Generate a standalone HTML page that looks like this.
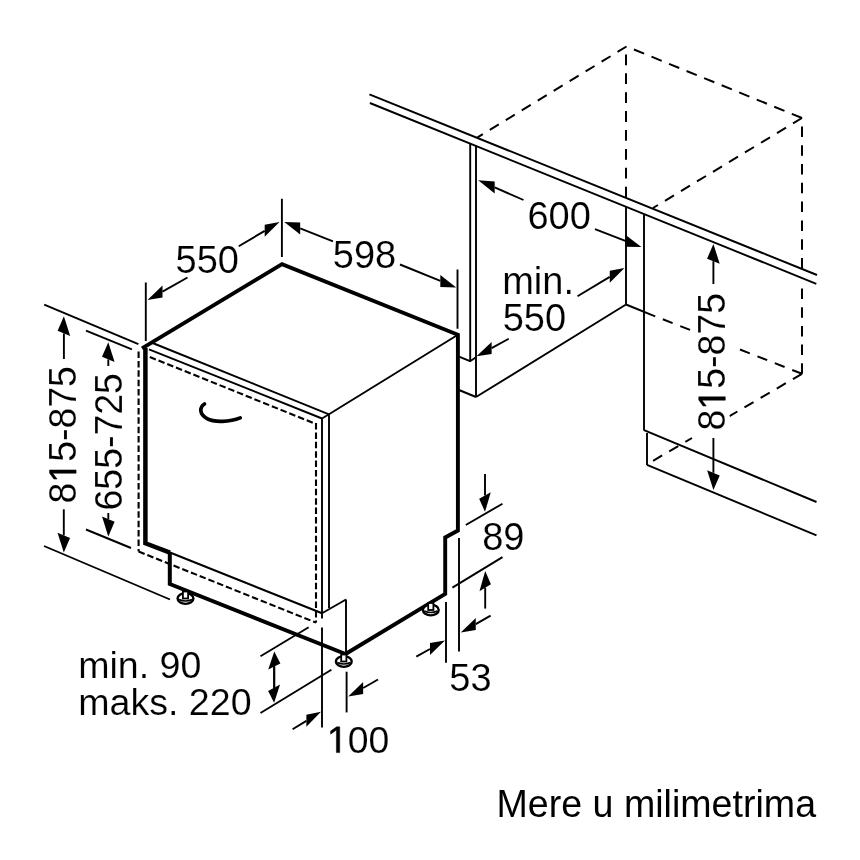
<!DOCTYPE html>
<html><head><meta charset="utf-8"><style>
html,body{margin:0;padding:0;background:#fff;width:860px;height:860px;overflow:hidden}
svg{display:block;will-change:transform}
text{font-family:"Liberation Sans",sans-serif;fill:#000;stroke:#fff;stroke-width:0.15px;paint-order:fill}
</style></head><body>
<svg width="860" height="860" viewBox="0 0 860 860" stroke="#000" stroke-linecap="butt">
<line x1="369.4" y1="94.4" x2="817" y2="275" stroke-width="1.9"/>
<line x1="369.9" y1="103" x2="816.3" y2="283.8" stroke-width="1.9"/>
<line x1="626.5" y1="46.5" x2="477.2" y2="137.6" stroke-width="2" stroke-dasharray="10.5 8.2"/>
<line x1="802" y1="118" x2="626.5" y2="46.5" stroke-width="2" stroke-dasharray="11 7.94"/>
<line x1="626" y1="197.5" x2="626" y2="47" stroke-width="2" stroke-dasharray="10.8 8.1"/>
<line x1="802" y1="268.5" x2="802" y2="118" stroke-width="2" stroke-dasharray="10.5 8.3"/>
<line x1="802" y1="118" x2="653" y2="208" stroke-width="2" stroke-dasharray="10.5 8.2"/>
<line x1="802" y1="373.8" x2="802" y2="281" stroke-width="2" stroke-dasharray="10.5 8.2"/>
<line x1="802" y1="373.8" x2="737" y2="348.3" stroke-width="2" stroke-dasharray="10.5 8.2"/>
<line x1="655.2" y1="316.3" x2="692" y2="330.7" stroke-width="2" stroke-dasharray="10.5 8.2" stroke-dashoffset="10.5"/>
<line x1="802" y1="373.8" x2="729.5" y2="416.1" stroke-width="2" stroke-dasharray="10.5 8.2"/>
<line x1="651" y1="462" x2="692" y2="438" stroke-width="2" stroke-dasharray="10.5 8.2" stroke-dashoffset="16.3"/>
<line x1="470.2" y1="143.6" x2="470.2" y2="361" stroke-width="1.9"/>
<line x1="476" y1="146" x2="476" y2="397" stroke-width="1.9"/>
<polyline points="459.00,356.60 470.10,361.20 476.00,357.20" fill="none" stroke-width="1.9" stroke-linejoin="miter"/>
<line x1="459" y1="390" x2="476" y2="397" stroke-width="1.9"/>
<line x1="476" y1="397" x2="626" y2="304.5" stroke-width="1.9"/>
<line x1="626" y1="206" x2="626" y2="304.5" stroke-width="1.9"/>
<line x1="626" y1="304.5" x2="655.2" y2="316.3" stroke-width="1.9"/>
<line x1="644" y1="215" x2="644" y2="430.5" stroke-width="1.9"/>
<line x1="644" y1="430.2" x2="816.5" y2="502" stroke-width="1.9"/>
<line x1="647" y1="433" x2="647" y2="465" stroke-width="1.9"/>
<line x1="647" y1="464.8" x2="816.5" y2="535.4" stroke-width="1.9"/>
<polyline points="142.00,348.40 282.00,264.10 457.90,334.80 457.90,530.50 445.20,537.50 445.20,594.00 345.50,654.00" fill="none" stroke-width="3.9" stroke-linejoin="miter"/>
<line x1="457.9" y1="334.8" x2="329" y2="414.3" stroke-width="1.9"/>
<polyline points="145.40,348.00 145.40,543.30 170.00,552.60" fill="none" stroke-width="4.5" stroke-linejoin="miter"/>
<line x1="170" y1="552.6" x2="322" y2="613.3" stroke-width="2.1"/>
<line x1="152.6" y1="343" x2="329" y2="414.3" stroke-width="1.9"/>
<line x1="149" y1="349.3" x2="322" y2="418.5" stroke-width="1.9"/>
<line x1="322" y1="418.5" x2="329" y2="414.3" stroke-width="1.9"/>
<line x1="322" y1="418.5" x2="322" y2="618.4" stroke-width="1.9"/>
<line x1="329" y1="414.3" x2="329" y2="608" stroke-width="1.9"/>
<line x1="322" y1="613.3" x2="346" y2="599.5" stroke-width="1.9"/>
<line x1="138.6" y1="351.5" x2="138.6" y2="551.5" stroke-width="2.1" stroke-dasharray="6.5 2.9"/>
<line x1="138.6" y1="551.5" x2="316" y2="622.6" stroke-width="2.1" stroke-dasharray="6.5 2.9"/>
<line x1="316" y1="423" x2="316" y2="622.6" stroke-width="2.1" stroke-dasharray="6.5 2.9"/>
<line x1="149.8" y1="357" x2="316" y2="424" stroke-width="2.1" stroke-dasharray="6.5 2.9"/>
<polyline points="169.80,552.00 169.80,584.00 345.50,654.00" fill="none" stroke-width="4.0" stroke-linejoin="miter"/>
<line x1="346" y1="599.5" x2="346" y2="654" stroke-width="1.9"/>
<path d="M204.5,404 C199,407.5 199.5,414.5 207,418.6 C214,422.6 230,422 240.2,417.9" fill="none" stroke-width="3.7" stroke-linecap="round"/>
<ellipse cx="185.5" cy="598.5" rx="7.9" ry="5.4" fill="#fff" stroke-width="2.4"/>
<path d="M179.0,599.5 Q185.5,602.5 192.0,599.5" fill="none" stroke-width="1.6"/>
<rect x="182.9" y="591.5" width="5.2" height="7" fill="#fff" stroke-width="1.8"/>
<ellipse cx="343.8" cy="661.5" rx="7.9" ry="5.4" fill="#fff" stroke-width="2.4"/>
<path d="M337.3,662.5 Q343.8,665.5 350.3,662.5" fill="none" stroke-width="1.6"/>
<rect x="341.2" y="654.5" width="5.2" height="7" fill="#fff" stroke-width="1.8"/>
<ellipse cx="430.8" cy="610" rx="7.9" ry="5.4" fill="#fff" stroke-width="2.4"/>
<path d="M424.3,611 Q430.8,614 437.3,611" fill="none" stroke-width="1.6"/>
<rect x="428.2" y="603" width="5.2" height="7" fill="#fff" stroke-width="1.8"/>
<line x1="44.2" y1="304.7" x2="138.4" y2="344.2" stroke-width="1.9"/>
<line x1="44" y1="546" x2="170" y2="599.5" stroke-width="1.9"/>
<line x1="63.90" y1="333.40" x2="63.9" y2="359" stroke-width="1.9"/>
<polygon points="63.90,316.20 70.18,336.00 57.62,330.80" fill="#000" stroke="none"/>
<line x1="63.80" y1="535.40" x2="63.8" y2="509.3" stroke-width="1.9"/>
<polygon points="63.80,552.60 70.06,538.06 57.54,532.74" fill="#000" stroke="none"/>
<g transform="translate(76.1 503.5) rotate(-90) scale(0.97 1)"><text x="0.000" y="0" font-size="38.6">8</text><path d="M515,0 L515,1237 L197,1010 L197,1180 L530,1409 L696,1409 L696,0 Z" transform="translate(21.467 0) scale(0.018848 -0.018848)" fill="#000" stroke="#000" stroke-width="26.53" stroke-linejoin="miter"/><text x="42.935" y="0" font-size="38.6">5-875</text></g>
<line x1="86" y1="330.6" x2="131.9" y2="349.3" stroke-width="1.9"/>
<line x1="86" y1="529.5" x2="131" y2="548" stroke-width="1.9"/>
<line x1="108.30" y1="359.40" x2="108.3" y2="366" stroke-width="1.9"/>
<polygon points="108.30,342.20 114.59,361.98 102.01,356.82" fill="#000" stroke="none"/>
<line x1="108.30" y1="519.20" x2="108.3" y2="513" stroke-width="1.9"/>
<polygon points="108.30,536.40 114.59,521.78 102.01,516.62" fill="#000" stroke="none"/>
<text x="0" y="0" font-size="38.6" text-anchor="start" transform="translate(122.1 510.5) rotate(-90) scale(0.97 1)">655-725</text>
<line x1="145.8" y1="282.5" x2="145.8" y2="341" stroke-width="1.9"/>
<line x1="281.9" y1="198.75" x2="281.9" y2="257" stroke-width="1.9"/>
<line x1="264.70" y1="230.87" x2="238.75" y2="246.25" stroke-width="1.9"/>
<polygon points="279.50,222.10 264.70,236.87 264.70,224.87" fill="#000" stroke="none"/>
<line x1="162.49" y1="291.57" x2="187.5" y2="277.5" stroke-width="1.9"/>
<polygon points="147.50,300.00 162.49,297.57 162.49,285.57" fill="#000" stroke="none"/>
<text x="175.6" y="272.7" font-size="38" text-anchor="start">550</text>
<line x1="457.5" y1="269.5" x2="457.5" y2="328.75" stroke-width="1.9"/>
<line x1="300.21" y1="228.40" x2="333" y2="241.3" stroke-width="1.9"/>
<polygon points="284.20,222.10 300.21,234.40 300.21,222.40" fill="#000" stroke="none"/>
<line x1="440.33" y1="280.99" x2="400" y2="264.5" stroke-width="1.9"/>
<polygon points="456.25,287.50 440.33,286.99 440.33,274.99" fill="#000" stroke="none"/>
<text x="332.8" y="267.6" font-size="38" text-anchor="start">598</text>
<line x1="494.71" y1="187.48" x2="523.5" y2="200" stroke-width="1.9"/>
<polygon points="478.20,180.30 494.71,193.48 494.71,181.48" fill="#000" stroke="none"/>
<line x1="625.34" y1="240.84" x2="595" y2="229.2" stroke-width="1.9"/>
<polygon points="641.40,247.00 625.34,246.84 625.34,234.84" fill="#000" stroke="none"/>
<text x="527.4" y="229.2" font-size="38" text-anchor="start">600</text>
<line x1="609.76" y1="276.86" x2="577.5" y2="296.25" stroke-width="1.9"/>
<polygon points="624.50,268.00 609.76,282.86 609.76,270.86" fill="#000" stroke="none"/>
<line x1="491.62" y1="348.05" x2="508.75" y2="338.75" stroke-width="1.9"/>
<polygon points="476.50,356.25 491.62,354.05 491.62,342.05" fill="#000" stroke="none"/>
<text x="502.2" y="293.7" font-size="38" text-anchor="start">min.</text>
<text x="502.7" y="330.8" font-size="38" text-anchor="start">550</text>
<line x1="713.40" y1="261.20" x2="713.4" y2="284" stroke-width="1.9"/>
<polygon points="713.40,244.00 719.71,263.73 707.09,258.67" fill="#000" stroke="none"/>
<line x1="713.40" y1="472.80" x2="713.4" y2="438" stroke-width="1.9"/>
<polygon points="713.40,490.00 719.69,475.38 707.11,470.22" fill="#000" stroke="none"/>
<rect x="692" y="289" width="37.5" height="146" fill="#fff" stroke="none"/>
<g transform="translate(725.3 430.4) rotate(-90) scale(0.97 1)"><text x="0.000" y="0" font-size="38.6">8</text><path d="M515,0 L515,1237 L197,1010 L197,1180 L530,1409 L696,1409 L696,0 Z" transform="translate(21.467 0) scale(0.018848 -0.018848)" fill="#000" stroke="#000" stroke-width="26.53" stroke-linejoin="miter"/><text x="42.935" y="0" font-size="38.6">5-875</text></g>
<line x1="465.8" y1="525" x2="502.5" y2="503.7" stroke-width="1.9"/>
<line x1="452.4" y1="587.6" x2="502.5" y2="557.1" stroke-width="1.9"/>
<line x1="485.00" y1="495.50" x2="485" y2="474.1" stroke-width="1.9"/>
<polygon points="485.00,511.80 490.80,492.14 479.20,498.86" fill="#000" stroke="none"/>
<line x1="485.20" y1="587.70" x2="485.2" y2="608.6" stroke-width="1.9"/>
<polygon points="485.20,571.00 490.92,584.21 479.48,591.19" fill="#000" stroke="none"/>
<text x="482.2" y="549.5" font-size="38" text-anchor="start">89</text>
<line x1="446" y1="602" x2="446" y2="662.8" stroke-width="1.9"/>
<line x1="459" y1="537.9" x2="459" y2="651.4" stroke-width="1.9"/>
<line x1="475.76" y1="624.12" x2="490.6" y2="615.7" stroke-width="1.9"/>
<polygon points="460.80,632.60 475.76,630.12 475.76,618.12" fill="#000" stroke="none"/>
<line x1="429.98" y1="648.98" x2="416.3" y2="656.6" stroke-width="1.9"/>
<polygon points="445.00,640.60 429.98,654.98 429.98,642.98" fill="#000" stroke="none"/>
<text x="449.3" y="691.2" font-size="38" text-anchor="start">53</text>
<line x1="322" y1="627.5" x2="322" y2="727.6" stroke-width="1.9"/>
<line x1="346.6" y1="671.7" x2="346.6" y2="712.4" stroke-width="1.9"/>
<line x1="306.36" y1="720.82" x2="292.6" y2="729.3" stroke-width="1.9"/>
<polygon points="321.00,711.80 306.36,726.82 306.36,714.82" fill="#000" stroke="none"/>
<line x1="363.14" y1="687.98" x2="378" y2="679.5" stroke-width="1.9"/>
<polygon points="348.20,696.50 363.14,693.98 363.14,681.98" fill="#000" stroke="none"/>
<g transform="translate(327 752.6) rotate(0) scale(1 1)"><path d="M515,0 L515,1237 L197,1010 L197,1180 L530,1409 L696,1409 L696,0 Z" transform="translate(0.000 0) scale(0.018262 -0.018262)" fill="#000" stroke="#000" stroke-width="27.38" stroke-linejoin="miter"/><text x="20.800" y="0" font-size="37.4">00</text></g>
<line x1="260.5" y1="656.3" x2="308.7" y2="627.2" stroke-width="1.9"/>
<line x1="260.5" y1="713" x2="331.4" y2="669.8" stroke-width="1.9"/>
<line x1="274.30" y1="666.50" x2="274.3" y2="690" stroke-width="1.9"/>
<polygon points="274.30,651.50 280.38,663.46 268.22,669.54" fill="#000" stroke="none"/>
<line x1="274.10" y1="687.80" x2="274.1" y2="660" stroke-width="1.9"/>
<polygon points="274.10,702.80 280.06,684.52 268.14,691.08" fill="#000" stroke="none"/>
<text x="78.2" y="677.6" font-size="37.6" text-anchor="start">min. 90</text>
<text x="78.2" y="714.7" font-size="37.6" text-anchor="start">maks. 220</text>
<text x="0" y="0" font-size="38.6" style="stroke:none" transform="translate(496.5 817) scale(0.974 1)">Mere u milimetrima</text>
</svg>
</body></html>
